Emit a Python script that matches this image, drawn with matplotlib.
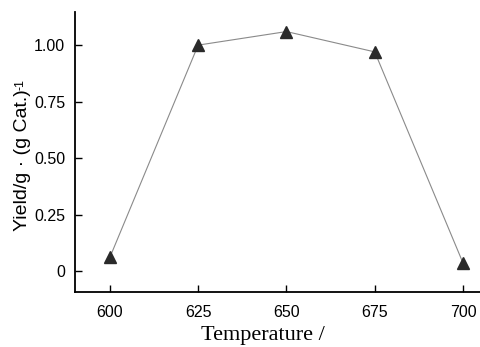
import matplotlib.pyplot as plt
from matplotlib.font_manager import FontProperties

# Dane
temperature = [600, 625, 650, 675, 700]
yield_val = [0.06, 1.00, 1.06, 0.97, 0.035]

x_ticks = [600, 625, 650, 675, 700]
y_ticks = [0, 0.25, 0.50, 0.75, 1.00]
y_tick_labels = ['0', '0.25', '0.50', '0.75', '1.00']

plt.rcParams['font.family'] = ['Liberation Sans', 'DejaVu Sans']

fig = plt.figure(figsize=(4.8, 3.47), dpi=100)
ax = fig.add_axes([0.156, 0.1585, 0.844, 0.8065])

ax.plot(temperature, yield_val, color='#8a8a8a', linewidth=0.8,
        marker='^', markersize=8, markerfacecolor='#2a2a2a',
        markeredgecolor='#2a2a2a')

ax.set_xlim(590.1, 704.8)
ax.set_ylim(-0.093, 1.146)
ax.set_xticks(x_ticks)
ax.set_yticks(y_ticks)
ax.set_yticklabels(y_tick_labels)

ax.spines['top'].set_visible(False)
ax.spines['right'].set_visible(False)
ax.spines['left'].set_linewidth(1.3)
ax.spines['bottom'].set_linewidth(1.3)
ax.tick_params(direction='in', length=5, width=1.0, labelsize=11.5)
ax.tick_params(axis='x', pad=9)
ax.tick_params(axis='y', pad=7)

sans = FontProperties(family=['Liberation Sans', 'DejaVu Sans'], size=14)
serif = FontProperties(family='Liberation Serif', size=16)

# Opis osi Y z wykładnikiem jako osobny tekst (bez mathtext)
ax.set_ylabel('Yield/g · (g Cat.)', fontproperties=sans)
ax.yaxis.set_label_coords(-0.108, 0.47)
ax.annotate('-1', xy=(0.0, 1.0), xycoords=ax.yaxis.label, rotation=90,
            ha='left', va='bottom', fontsize=9)

ax.set_xlabel('Temperature /', fontproperties=serif)
ax.xaxis.set_label_coords(0.463, -0.12)

plt.savefig('out.png', dpi=100)
